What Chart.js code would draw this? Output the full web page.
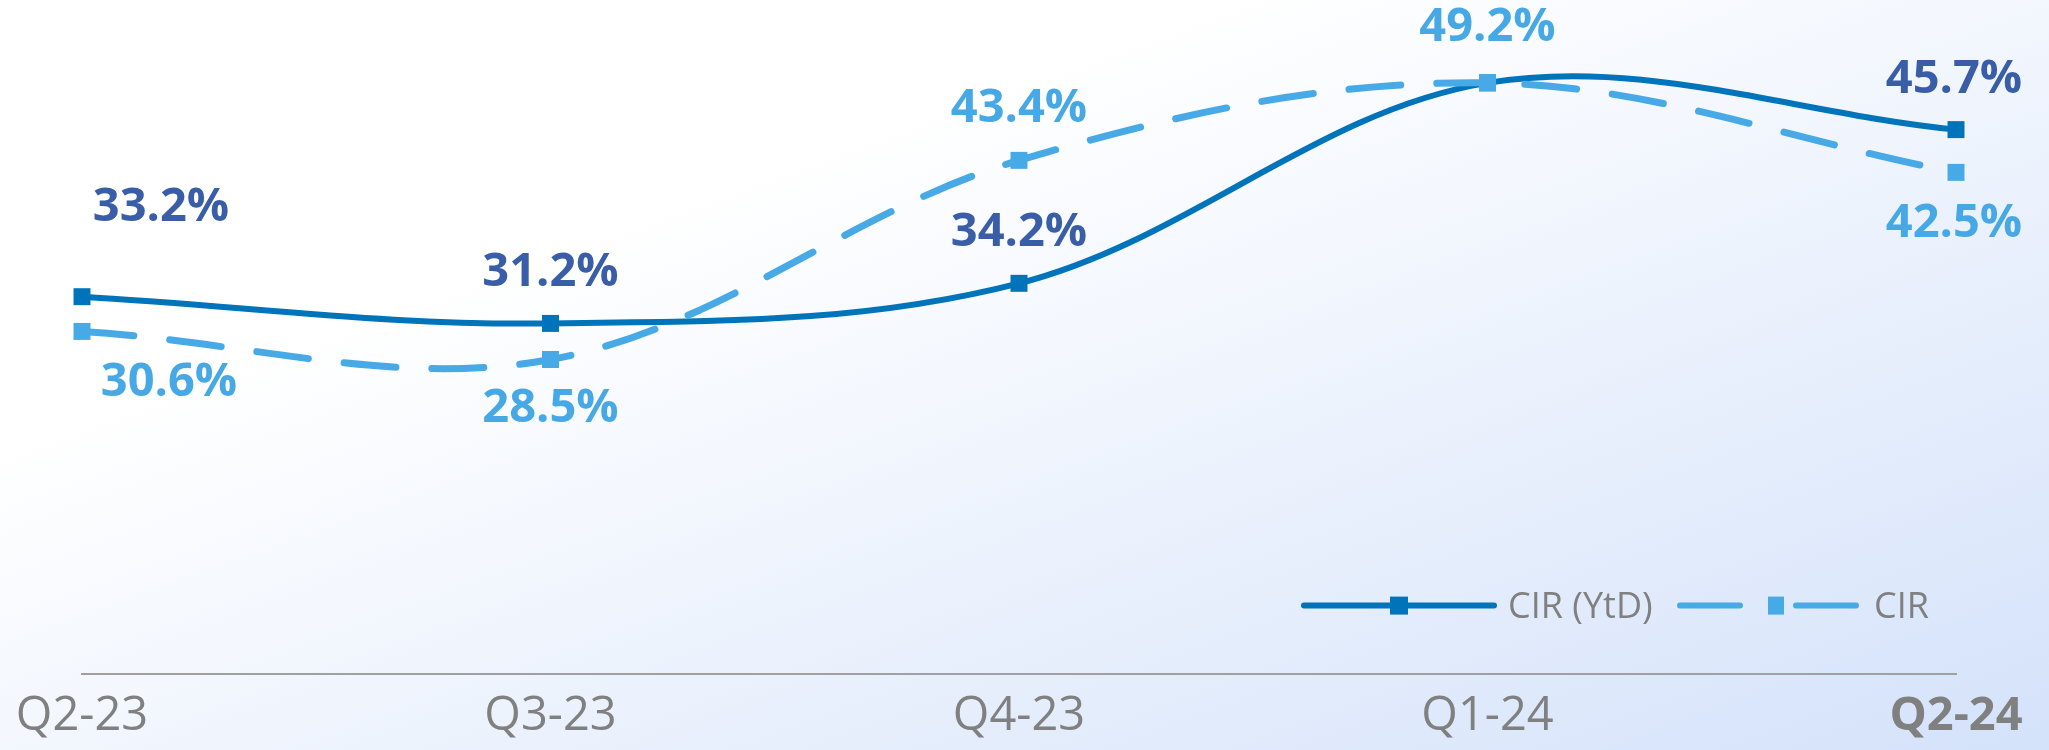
<!DOCTYPE html>
<html>
<head>
<meta charset="utf-8">
<script src="https://cdn.jsdelivr.net/npm/chart.js@4"></script>
<style>
  html, body { margin: 0; padding: 0; }
  body {
    width: 2049px; height: 750px; overflow: hidden;
    background: linear-gradient(to bottom right, #ffffff 0%, #ffffff 30%, #d4e2fa 100%);
  }
  canvas { display: block; }
</style>
</head>
<body>
<canvas id="cir-chart" width="2049" height="750"></canvas>
<script>
// 데이터
const quarters = ["Q2-23", "Q3-23", "Q4-23", "Q1-24", "Q2-24"];
const cirYtd = [33.2, 31.2, 34.2, 49.2, 45.7];
const cirQuarter = [30.6, 28.5, 43.4, 49.2, 42.5];
const ytdLabels = ["33.2%", "31.2%", "34.2%", "", "45.7%"];
const cirLabels = ["30.6%", "28.5%", "43.4%", "49.2%", "42.5%"];

const darkBlue = "#0074BA";
const lightBlue = "#47AAE6";
const ytdTextColor = "#3A5DA8";
const cirTextColor = "#46A8E5";
const FONT = "'Open Sans', 'DejaVu Sans', sans-serif";

// label offset from its point (px)
const ytdOffsets = [[79, -89], [0, -51], [0, -51], [0, 0], [-2, -50]];
const cirOffsets = [[87, 51], [0, 49], [0, -52], [0, -55], [-2, 51]];

const valueLabels = {
    id: "valueLabels",
    afterDatasetsDraw(chart) {
        const ctx = chart.ctx;
        ctx.save();
        ctx.font = "bold 47px " + FONT;
        ctx.textAlign = "center";
        ctx.textBaseline = "middle";
        const sets = [[0, ytdLabels, ytdOffsets, ytdTextColor], [1, cirLabels, cirOffsets, cirTextColor]];
        sets.forEach(function (s) {
            const meta = chart.getDatasetMeta(s[0]);
            meta.data.forEach(function (pt, i) {
                if (!s[1][i]) return;
                ctx.fillStyle = s[3];
                ctx.fillText(s[1][i], pt.x + s[2][i][0], pt.y + s[2][i][1]);
            });
        });
        ctx.restore();
    }
};

// legend: line - marker - line, like the office chart
const lineLegend = {
    id: "lineLegend",
    afterDraw(chart) {
        const ctx = chart.ctx;
        const area = chart.chartArea;
        const y = area.bottom - 68;
        const r = area.right;
        ctx.save();
        ctx.lineCap = "round";
        ctx.lineWidth = 6;

        ctx.strokeStyle = darkBlue;
        ctx.beginPath();
        ctx.moveTo(r - 652, y);
        ctx.lineTo(r - 462, y);
        ctx.stroke();
        ctx.fillStyle = darkBlue;
        ctx.fillRect(r - 566, y - 9, 18, 18);

        ctx.strokeStyle = lightBlue;
        ctx.beginPath();
        ctx.moveTo(r - 276, y);
        ctx.lineTo(r - 216, y);
        ctx.moveTo(r - 160, y);
        ctx.lineTo(r - 100, y);
        ctx.stroke();
        ctx.fillStyle = lightBlue;
        ctx.fillRect(r - 188, y - 9, 16, 18);

        ctx.font = "36px " + FONT;
        ctx.fillStyle = "#808080";
        ctx.textBaseline = "middle";
        ctx.textAlign = "left";
        ctx.fillText("CIR (YtD)", r - 448, y + 2);
        ctx.fillText("CIR", r - 82, y + 2);
        ctx.restore();
    }
};

new Chart(document.getElementById("cir-chart"), {
    type: "line",
    data: {
        labels: quarters,
        datasets: [
            {
                label: "CIR (YtD)",
                data: cirYtd,
                borderColor: darkBlue,
                backgroundColor: darkBlue,
                borderWidth: 6,
                tension: 0.35,
                pointStyle: "rect",
                pointRadius: 12,
                pointBorderWidth: 0,
                clip: false,
                order: 2
            },
            {
                label: "CIR",
                data: cirQuarter,
                borderColor: lightBlue,
                backgroundColor: lightBlue,
                borderWidth: 7,
                borderDash: [52, 36],
                borderCapStyle: "round",
                tension: 0.35,
                pointStyle: "rect",
                pointRadius: 12,
                pointBorderWidth: 0,
                clip: false,
                order: 1
            }
        ]
    },
    options: {
        responsive: false,
        animation: false,
        devicePixelRatio: 1,
        layout: { padding: { left: 82, right: 93, top: 5, bottom: -10 } },
        plugins: {
            legend: { display: false },
            tooltip: { enabled: false }
        },
        scales: {
            x: {
                offset: false,
                grid: { display: false, drawTicks: false },
                border: { display: true, color: "#A0A0A0", width: 2 },
                ticks: {
                    padding: 15,
                    color: "#808080",
                    maxRotation: 0,
                    font: function (c) {
                        return { family: FONT, size: 47, weight: c.index === quarters.length - 1 ? "bold" : "normal" };
                    }
                }
            },
            y: {
                display: false,
                min: 5,
                max: 54.5
            }
        }
    },
    plugins: [valueLabels, lineLegend]
});
</script>
</body>
</html>
